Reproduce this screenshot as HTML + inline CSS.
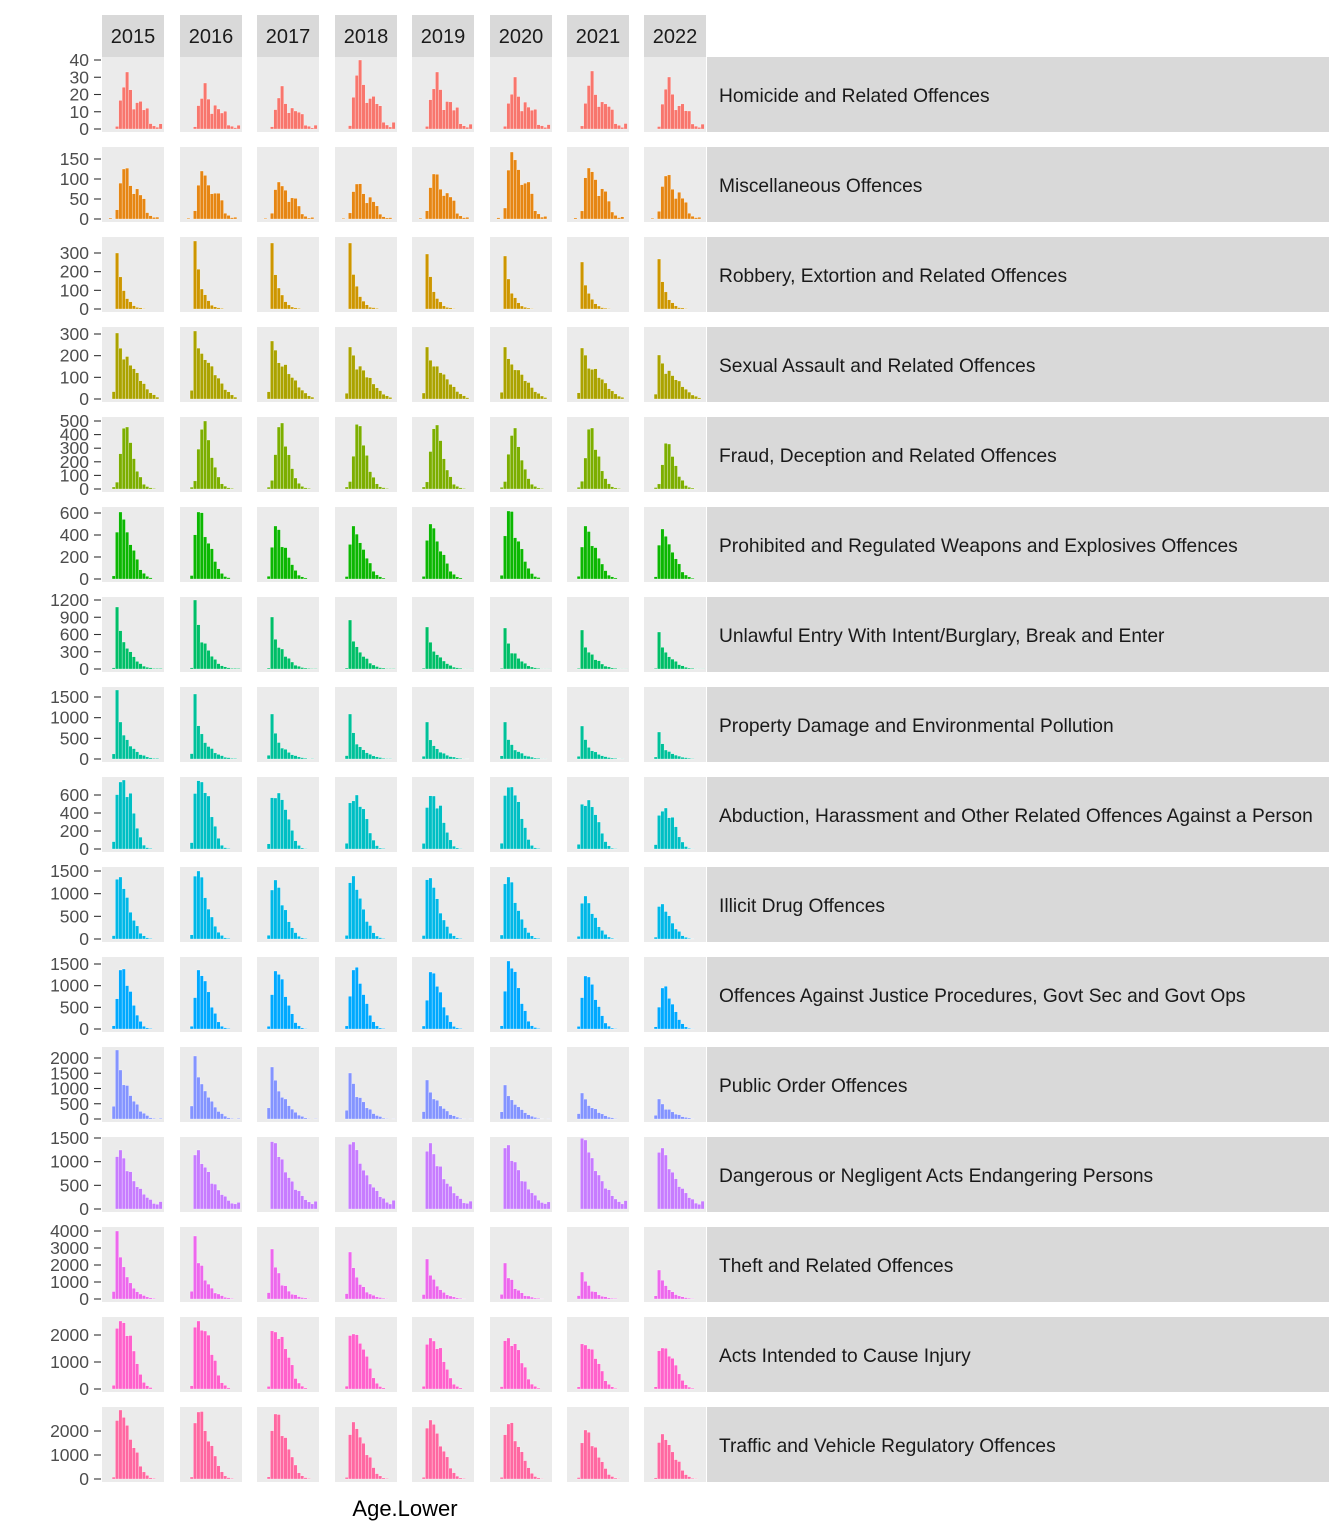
<!DOCTYPE html>
<html><head><meta charset="utf-8"><style>
html,body{margin:0;padding:0;background:#fff;overflow:hidden;}
svg{display:block;}
svg text{font-family:"Liberation Sans",sans-serif;}
</style></head><body>
<svg id="s" width="1344" height="1536" xmlns="http://www.w3.org/2000/svg"></svg>
<script>
const cols=["#F8766D","#E68613","#CD9600","#ABA300","#7CAE00","#0CB702","#00BE67","#00C19A","#00BFC4","#00B8E7","#00A9FF","#8494FF","#C77CFF","#ED68ED","#FF61CC","#FF68A1"];
const names=["Homicide and Related Offences","Miscellaneous Offences","Robbery, Extortion and Related Offences","Sexual Assault and Related Offences","Fraud, Deception and Related Offences","Prohibited and Regulated Weapons and Explosives Offences","Unlawful Entry With Intent/Burglary, Break and Enter","Property Damage and Environmental Pollution","Abduction, Harassment and Other Related Offences Against a Person","Illicit Drug Offences","Offences Against Justice Procedures, Govt Sec and Govt Ops","Public Order Offences","Dangerous or Negligent Acts Endangering Persons","Theft and Related Offences","Acts Intended to Cause Injury","Traffic and Vehicle Regulatory Offences"];
const ticks=[[[0,10,20,30,40],69/40],[[0,50,100,150],60/150],[[0,100,200,300],56/300],[[0,100,200,300],65/300],[[0,100,200,300,400,500],68/500],[[0,200,400,600],66/600],[[0,300,600,900,1200],69/1200],[[0,500,1000,1500],62/1500],[[0,200,400,600],54/600],[[0,500,1000,1500],68/1500],[[0,500,1000,1500],65/1500],[[0,500,1000,1500,2000],61/2000],[[0,500,1000,1500],71/1500],[[0,1000,2000,3000,4000],68/4000],[[0,1000,2000],54/2000],[[0,1000,2000],48/2000]];
const peaks=[[57,46,43,69,57,52,58,52],[50,48,37,35,45,67,51,43],[56,68,66,66,55,53,47,50],[66,68,58,52,52,52,51,44],[62,68,66,63,64,61,61,45],[67,67,53,53,55,68,53,50],[62,69,52,49,42,41,39,37],[69,65,45,45,37,37,33,27],[69,67,56,54,53,62,49,41],[62,68,59,63,61,62,43,35],[59,59,58,59,57,68,53,41],[69,63,52,46,39,34,26,20],[59,59,66,67,66,64,69,61],[68,63,50,47,40,36,27,29],[68,68,57,55,51,51,44,41],[69,67,65,57,59,55,49,45]];
const prof=[
[0,0,.05,.48,.72,1,.64,.36,.48,.45,.36,.36,.09,.06,.03,.09],
[.02,0,.17,.75,1,.95,.72,.49,.58,.52,.38,.13,.07,.03,.04,0],
[0,0,1,.55,.32,.2,.12,.06,.03,.02,.01,0,0,0,0,0],
[0,.12,1,.8,.62,.6,.55,.45,.38,.3,.22,.15,.1,.06,.03,0],
[0,.03,.12,.55,.95,1,.7,.5,.3,.18,.08,.04,.02,.01,0,0],
[0,.05,.65,1,.92,.65,.55,.42,.28,.15,.08,.04,.02,0,0,0],
[0,.02,1,.6,.42,.36,.26,.2,.13,.08,.05,.03,.02,.01,.01,.01],
[0,.08,1,.55,.36,.26,.2,.15,.1,.07,.05,.03,.02,.01,.01,0],
[0,.1,.85,.95,1,.82,.76,.52,.32,.16,.06,.02,.01,0,0,0],
[0,.06,.9,1,.85,.62,.46,.3,.2,.1,.05,.02,.01,0,0,0],
[0,.05,.55,1,.97,.8,.6,.4,.25,.12,.05,.02,.01,0,0,0],
[0,.2,1,.72,.52,.45,.36,.26,.2,.12,.08,.05,.02,.01,0,.01],
[0,0,.95,1,.82,.7,.6,.47,.4,.32,.26,.2,.15,.1,.08,.12],
[0,.12,1,.62,.5,.3,.25,.16,.1,.08,.05,.03,.02,.01,0,0],
[0,.05,.95,1,.92,.85,.75,.55,.4,.2,.1,.05,.02,0,0,0],
[0,.03,.8,1,.95,.72,.6,.46,.36,.2,.1,.05,.02,.01,0,0]];
const X=[102,180,257,335,412,490,567,644];
const yrs=[2015,2016,2017,2018,2019,2020,2021,2022];
let h='';
for(let j=0;j<8;j++){h+=`<rect x="${X[j]}" y="15" width="62" height="42" fill="#d9d9d9"/><text x="${X[j]+31}" y="43" font-size="20" text-anchor="middle" fill="#1a1a1a">${yrs[j]}</text>`;}
for(let i=0;i<16;i++){
 const top=57+90*i, z=top+72;
 h+=`<rect x="707" y="${top}" width="622" height="75" fill="#d9d9d9"/><text x="719" y="${top+45}" font-size="19.2" fill="#1a1a1a">${names[i]}</text>`;
 const [tv,sc]=ticks[i];
 for(const v of tv){const y=z-v*sc;h+=`<line x1="94" x2="101" y1="${y}" y2="${y}" stroke="#333" stroke-width="1.1"/><text x="89" y="${y+6}" font-size="17.5" text-anchor="end" fill="#4d4d4d">${v}</text>`;}
 for(let j=0;j<8;j++){
  h+=`<rect x="${X[j]}" y="${top}" width="62" height="75" fill="#ebebeb"/>`;
  const p=prof[i];let mx=Math.max(...p);
  for(let k=0;k<16;k++){
   let f=p[k]/mx; if(f>0&&f<1){f*=1+0.08*Math.sin(i*3.1+j*1.7+k*2.3);}
   const hh=f*peaks[i][j]; if(hh<0.3)continue;
   h+=`<rect x="${(X[j]+6.7+k*3.35).toFixed(2)}" y="${(z-hh).toFixed(1)}" width="3.35" height="${hh.toFixed(1)}" fill="${cols[i]}" stroke="#fff" stroke-width="0.3"/>`;
  }
 }
}
h+=`<text x="405" y="1516" font-size="22" text-anchor="middle" fill="#000">Age.Lower</text>`;
document.getElementById('s').innerHTML=h;
</script>
</body></html>
